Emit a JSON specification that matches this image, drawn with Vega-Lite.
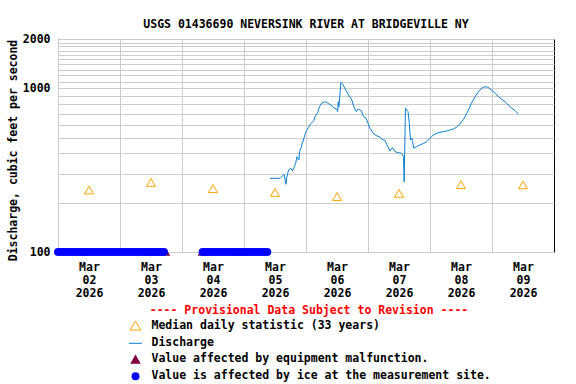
{
  "$schema": "https://vega.github.io/schema/vega-lite/v6.json",
  "width": 496,
  "height": 213,
  "autosize": "none",
  "padding": {"left": 58, "top": 39, "right": 22, "bottom": 132},
  "background": "white",
  "title": {
    "text": "USGS 01436690 NEVERSINK RIVER AT BRIDGEVILLE NY",
    "font": "DejaVu Sans Mono",
    "fontSize": 11.5,
    "fontWeight": "bold",
    "color": "black",
    "anchor": "middle",
    "offset": 3
  },
  "config": {
    "view": {"stroke": "black", "strokeWidth": 1},
    "axis": {
      "labelFont": "DejaVu Sans Mono",
      "labelFontWeight": "bold",
      "labelFontSize": 11.5,
      "labelColor": "black",
      "titleFont": "DejaVu Sans Mono",
      "titleFontWeight": "bold",
      "titleFontSize": 11.5,
      "titleColor": "black",
      "gridColor": "#cccccc",
      "gridOpacity": 1,
      "gridWidth": 1,
      "ticks": false,
      "domain": false
    },
    "legend": {
      "orient": "none",
      "legendX": 70,
      "legendY": 266,
      "direction": "vertical",
      "titleColor": "#FF0000",
      "titleFont": "DejaVu Sans Mono",
      "titleFontSize": 11.5,
      "titleFontWeight": "bold",
      "titleAnchor": "middle",
      "titlePadding": 3,
      "titleLimit": 800,
      "labelFont": "DejaVu Sans Mono",
      "labelFontSize": 11.5,
      "labelFontWeight": "bold",
      "labelColor": "black",
      "labelLimit": 800,
      "labelOffset": 8.5,
      "rowPadding": 3.3,
      "symbolStrokeWidth": 1,
      "symbolOpacity": 1
    }
  },
  "datasets": {
    "median": [
      {"t": "2026-03-02T12:00", "v": 239},
      {"t": "2026-03-03T12:00", "v": 266},
      {"t": "2026-03-04T12:00", "v": 244},
      {"t": "2026-03-05T12:00", "v": 231},
      {"t": "2026-03-06T12:00", "v": 218},
      {"t": "2026-03-07T12:00", "v": 228},
      {"t": "2026-03-08T12:00", "v": 258},
      {"t": "2026-03-09T12:00", "v": 257}
    ],
    "q": [
      {"t": "2026-03-05T10:00", "v": 282},
      {"t": "2026-03-05T14:00", "v": 282},
      {"t": "2026-03-05T15:30", "v": 298},
      {"t": "2026-03-05T16:15", "v": 259},
      {"t": "2026-03-05T16:30", "v": 283},
      {"t": "2026-03-05T17:15", "v": 317},
      {"t": "2026-03-05T18:15", "v": 324},
      {"t": "2026-03-05T18:45", "v": 313},
      {"t": "2026-03-05T19:30", "v": 332},
      {"t": "2026-03-05T20:00", "v": 348},
      {"t": "2026-03-05T20:30", "v": 382},
      {"t": "2026-03-05T21:15", "v": 365},
      {"t": "2026-03-05T21:30", "v": 410},
      {"t": "2026-03-05T22:15", "v": 440},
      {"t": "2026-03-05T22:30", "v": 461},
      {"t": "2026-03-05T23:00", "v": 483},
      {"t": "2026-03-05T23:45", "v": 531},
      {"t": "2026-03-06T00:30", "v": 562},
      {"t": "2026-03-06T01:00", "v": 578},
      {"t": "2026-03-06T02:00", "v": 611},
      {"t": "2026-03-06T03:00", "v": 634},
      {"t": "2026-03-06T03:30", "v": 671},
      {"t": "2026-03-06T04:30", "v": 710},
      {"t": "2026-03-06T05:15", "v": 772},
      {"t": "2026-03-06T06:00", "v": 810},
      {"t": "2026-03-06T07:30", "v": 828},
      {"t": "2026-03-06T08:30", "v": 810},
      {"t": "2026-03-06T09:30", "v": 791},
      {"t": "2026-03-06T10:45", "v": 761},
      {"t": "2026-03-06T12:00", "v": 744},
      {"t": "2026-03-06T12:15", "v": 720},
      {"t": "2026-03-06T12:30", "v": 828},
      {"t": "2026-03-06T12:45", "v": 772},
      {"t": "2026-03-06T13:30", "v": 1088},
      {"t": "2026-03-06T14:15", "v": 1058},
      {"t": "2026-03-06T15:00", "v": 1000},
      {"t": "2026-03-06T16:30", "v": 910},
      {"t": "2026-03-06T17:45", "v": 848},
      {"t": "2026-03-06T18:30", "v": 772},
      {"t": "2026-03-06T19:30", "v": 720},
      {"t": "2026-03-06T20:15", "v": 747},
      {"t": "2026-03-06T21:30", "v": 727},
      {"t": "2026-03-06T22:15", "v": 671},
      {"t": "2026-03-06T23:15", "v": 656},
      {"t": "2026-03-07T00:00", "v": 611},
      {"t": "2026-03-07T00:45", "v": 570},
      {"t": "2026-03-07T02:00", "v": 531},
      {"t": "2026-03-07T03:30", "v": 511},
      {"t": "2026-03-07T04:30", "v": 506},
      {"t": "2026-03-07T05:45", "v": 483},
      {"t": "2026-03-07T06:30", "v": 483},
      {"t": "2026-03-07T07:15", "v": 455},
      {"t": "2026-03-07T08:30", "v": 414},
      {"t": "2026-03-07T09:30", "v": 434},
      {"t": "2026-03-07T10:30", "v": 410},
      {"t": "2026-03-07T11:45", "v": 404},
      {"t": "2026-03-07T13:00", "v": 401},
      {"t": "2026-03-07T13:45", "v": 383},
      {"t": "2026-03-07T14:00", "v": 268},
      {"t": "2026-03-07T14:30", "v": 755},
      {"t": "2026-03-07T15:30", "v": 720},
      {"t": "2026-03-07T16:00", "v": 611},
      {"t": "2026-03-07T16:15", "v": 531},
      {"t": "2026-03-07T16:30", "v": 483},
      {"t": "2026-03-07T17:00", "v": 495},
      {"t": "2026-03-07T17:15", "v": 472},
      {"t": "2026-03-07T17:45", "v": 430},
      {"t": "2026-03-07T18:45", "v": 440},
      {"t": "2026-03-07T20:00", "v": 450},
      {"t": "2026-03-07T21:30", "v": 461},
      {"t": "2026-03-07T22:45", "v": 472},
      {"t": "2026-03-08T00:00", "v": 495},
      {"t": "2026-03-08T01:15", "v": 518},
      {"t": "2026-03-08T03:15", "v": 536},
      {"t": "2026-03-08T05:15", "v": 543},
      {"t": "2026-03-08T07:00", "v": 551},
      {"t": "2026-03-08T09:00", "v": 564},
      {"t": "2026-03-08T10:15", "v": 578},
      {"t": "2026-03-08T11:30", "v": 605},
      {"t": "2026-03-08T13:00", "v": 647},
      {"t": "2026-03-08T14:15", "v": 704},
      {"t": "2026-03-08T15:30", "v": 772},
      {"t": "2026-03-08T16:00", "v": 810},
      {"t": "2026-03-08T17:30", "v": 889},
      {"t": "2026-03-08T18:45", "v": 953},
      {"t": "2026-03-08T20:00", "v": 1000},
      {"t": "2026-03-08T21:15", "v": 1023},
      {"t": "2026-03-08T22:30", "v": 1014},
      {"t": "2026-03-08T23:45", "v": 976},
      {"t": "2026-03-09T01:15", "v": 932},
      {"t": "2026-03-09T03:00", "v": 876},
      {"t": "2026-03-09T05:00", "v": 828},
      {"t": "2026-03-09T07:00", "v": 772},
      {"t": "2026-03-09T09:00", "v": 727},
      {"t": "2026-03-09T10:15", "v": 697}
    ],
    "eqp": [
      {"t": "2026-03-03T17:45", "v": 100},
      {"t": "2026-03-04T07:45", "v": 100}
    ],
    "ice": [
      {"t": "2026-03-02T00:00", "v": 100}, {"t": "2026-03-02T01:00", "v": 100}, {"t": "2026-03-02T02:00", "v": 100}, {"t": "2026-03-02T03:00", "v": 100},
      {"t": "2026-03-02T04:00", "v": 100}, {"t": "2026-03-02T05:00", "v": 100}, {"t": "2026-03-02T06:00", "v": 100}, {"t": "2026-03-02T07:00", "v": 100},
      {"t": "2026-03-02T08:00", "v": 100}, {"t": "2026-03-02T09:00", "v": 100}, {"t": "2026-03-02T10:00", "v": 100}, {"t": "2026-03-02T11:00", "v": 100},
      {"t": "2026-03-02T12:00", "v": 100}, {"t": "2026-03-02T13:00", "v": 100}, {"t": "2026-03-02T14:00", "v": 100}, {"t": "2026-03-02T15:00", "v": 100},
      {"t": "2026-03-02T16:00", "v": 100}, {"t": "2026-03-02T17:00", "v": 100}, {"t": "2026-03-02T18:00", "v": 100}, {"t": "2026-03-02T19:00", "v": 100},
      {"t": "2026-03-02T20:00", "v": 100}, {"t": "2026-03-02T21:00", "v": 100}, {"t": "2026-03-02T22:00", "v": 100}, {"t": "2026-03-02T23:00", "v": 100},
      {"t": "2026-03-03T00:00", "v": 100}, {"t": "2026-03-03T01:00", "v": 100}, {"t": "2026-03-03T02:00", "v": 100}, {"t": "2026-03-03T03:00", "v": 100},
      {"t": "2026-03-03T04:00", "v": 100}, {"t": "2026-03-03T05:00", "v": 100}, {"t": "2026-03-03T06:00", "v": 100}, {"t": "2026-03-03T07:00", "v": 100},
      {"t": "2026-03-03T08:00", "v": 100}, {"t": "2026-03-03T09:00", "v": 100}, {"t": "2026-03-03T10:00", "v": 100}, {"t": "2026-03-03T11:00", "v": 100},
      {"t": "2026-03-03T12:00", "v": 100}, {"t": "2026-03-03T13:00", "v": 100}, {"t": "2026-03-03T14:00", "v": 100}, {"t": "2026-03-03T15:00", "v": 100},
      {"t": "2026-03-03T16:00", "v": 100}, {"t": "2026-03-03T17:00", "v": 100},
      {"t": "2026-03-04T08:00", "v": 100}, {"t": "2026-03-04T09:00", "v": 100}, {"t": "2026-03-04T10:00", "v": 100}, {"t": "2026-03-04T11:00", "v": 100},
      {"t": "2026-03-04T12:00", "v": 100}, {"t": "2026-03-04T13:00", "v": 100}, {"t": "2026-03-04T14:00", "v": 100}, {"t": "2026-03-04T15:00", "v": 100},
      {"t": "2026-03-04T16:00", "v": 100}, {"t": "2026-03-04T17:00", "v": 100}, {"t": "2026-03-04T18:00", "v": 100}, {"t": "2026-03-04T19:00", "v": 100},
      {"t": "2026-03-04T20:00", "v": 100}, {"t": "2026-03-04T21:00", "v": 100}, {"t": "2026-03-04T22:00", "v": 100}, {"t": "2026-03-04T23:00", "v": 100},
      {"t": "2026-03-05T00:00", "v": 100}, {"t": "2026-03-05T01:00", "v": 100}, {"t": "2026-03-05T02:00", "v": 100}, {"t": "2026-03-05T03:00", "v": 100},
      {"t": "2026-03-05T04:00", "v": 100}, {"t": "2026-03-05T05:00", "v": 100}, {"t": "2026-03-05T06:00", "v": 100}, {"t": "2026-03-05T07:00", "v": 100},
      {"t": "2026-03-05T08:00", "v": 100}, {"t": "2026-03-05T09:00", "v": 100}
    ]
  },
  "encoding": {
    "x": {
      "field": "t",
      "type": "temporal",
      "scale": {"domain": [{"year": 2026, "month": 3, "date": 2}, {"year": 2026, "month": 3, "date": 10}]},
      "axis": {
        "title": null,
        "values": [
          {"year": 2026, "month": 3, "date": 2}, {"year": 2026, "month": 3, "date": 3},
          {"year": 2026, "month": 3, "date": 4}, {"year": 2026, "month": 3, "date": 5},
          {"year": 2026, "month": 3, "date": 6}, {"year": 2026, "month": 3, "date": 7},
          {"year": 2026, "month": 3, "date": 8}, {"year": 2026, "month": 3, "date": 9}
        ],
        "labelExpr": "[timeFormat(datum.value, '%b'), timeFormat(datum.value, '%d'), timeFormat(datum.value, '%Y')]",
        "labelOffset": 31,
        "labelFlush": false,
        "labelOverlap": false,
        "labelPadding": 9,
        "labelLineHeight": 13,
        "labelBaseline": "top"
      }
    },
    "y": {
      "field": "v",
      "type": "quantitative",
      "scale": {"type": "log", "domain": [100, 2000], "nice": false},
      "axis": {
        "title": "Discharge, cubic feet per second",
        "values": [100, 200, 300, 400, 500, 600, 700, 800, 900, 1000, 1100, 1200, 1300, 1400, 1500, 1600, 1700, 1800, 1900, 2000],
        "format": "d",
        "labelExpr": "datum.value == 100 || datum.value == 1000 || datum.value == 2000 ? datum.label : ''",
        "labelPadding": 8,
        "titlePadding": 4,
        "titleY": 111,
        "labelOverlap": false
      }
    }
  },
  "layer": [
    {
      "data": {"name": "median"},
      "mark": {"type": "point", "filled": false, "size": 80, "strokeWidth": 1, "opacity": 1, "clip": false},
      "encoding": {
        "stroke": {
          "datum": "Median daily statistic (33 years)",
          "type": "nominal",
          "scale": {
            "domain": ["Median daily statistic (33 years)", "Discharge", "Value affected by equipment malfunction.", "Value is affected by ice at the measurement site."],
            "range": ["#FFA500", "#0A7FD0", "transparent", "transparent"]
          },
          "legend": {"title": "---- Provisional Data Subject to Revision ----"}
        },
        "fill": {
          "datum": "Median daily statistic (33 years)",
          "type": "nominal",
          "scale": {
            "domain": ["Median daily statistic (33 years)", "Discharge", "Value affected by equipment malfunction.", "Value is affected by ice at the measurement site."],
            "range": ["transparent", "transparent", "#800040", "#0000FF"]
          },
          "legend": {"title": "---- Provisional Data Subject to Revision ----"}
        },
        "shape": {
          "datum": "Median daily statistic (33 years)",
          "type": "nominal",
          "scale": {
            "domain": ["Median daily statistic (33 years)", "Discharge", "Value affected by equipment malfunction.", "Value is affected by ice at the measurement site."],
            "range": ["triangle-up", "stroke", "triangle-up", "circle"]
          },
          "legend": {"title": "---- Provisional Data Subject to Revision ----"}
        }
      }
    },
    {
      "data": {"name": "q"},
      "mark": {"type": "line", "strokeWidth": 1},
      "encoding": {"stroke": {"datum": "Discharge", "type": "nominal"}}
    },
    {
      "data": {"name": "eqp"},
      "mark": {"type": "point", "filled": true, "size": 80, "opacity": 1, "clip": false},
      "encoding": {
        "fill": {"datum": "Value affected by equipment malfunction.", "type": "nominal"},
        "stroke": {"datum": "Value affected by equipment malfunction.", "type": "nominal"},
        "shape": {"datum": "Value affected by equipment malfunction.", "type": "nominal"}
      }
    },
    {
      "data": {"name": "ice"},
      "mark": {"type": "point", "filled": true, "opacity": 1, "clip": false},
      "encoding": {
        "fill": {"datum": "Value is affected by ice at the measurement site.", "type": "nominal"},
        "stroke": {"datum": "Value is affected by ice at the measurement site.", "type": "nominal"},
        "shape": {"datum": "Value is affected by ice at the measurement site.", "type": "nominal"},
        "size": {
          "datum": "Value is affected by ice at the measurement site.",
          "type": "nominal",
          "scale": {
            "type": "ordinal",
            "domain": ["Median daily statistic (33 years)", "Discharge", "Value affected by equipment malfunction.", "Value is affected by ice at the measurement site."],
            "range": [110, 170, 110, 64]
          },
          "legend": {"title": "---- Provisional Data Subject to Revision ----"}
        }
      }
    }
  ]
}
